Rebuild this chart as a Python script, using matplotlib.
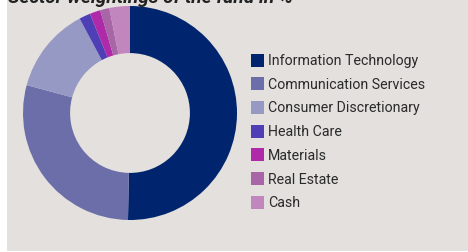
import matplotlib
matplotlib.use("Agg")
import matplotlib.pyplot as plt
from matplotlib.patches import Rectangle

title = "Sector weightings of the fund in %"
sectors = ["Information Technology", "Communication Services", "Consumer Discretionary",
           "Health Care", "Materials", "Real Estate", "Cash"]
weights = [50.3, 28.9, 13.0, 1.7, 1.6, 1.4, 3.1]
colors = ["#00256e", "#6b6ea8", "#9699c4", "#4f3fb6", "#ae2aa8", "#a866a8", "#c186bd"]

W, H = 468, 253
fig = plt.figure(figsize=(W / 100, H / 100), dpi=100)
fig.patch.set_facecolor("white")
bg = "#e3e0dd"
fig.add_artist(Rectangle((7 / W, 1 / H), 1 - 7 / W, 1 - 1 / H, transform=fig.transFigure,
                         facecolor=bg, edgecolor="none", zorder=0))

# donut: center (130,114), radius 107 px
cx, cy, r = 130, 114, 107
ax = fig.add_axes([(cx - r) / W, 1 - (cy + r) / H, 2 * r / W, 2 * r / H])
ax.set_facecolor("none")
ax.pie(weights, colors=colors, startangle=90, counterclock=False,
       wedgeprops=dict(width=0.44, edgecolor="none"), radius=1.0)
ax.set_xlim(-1, 1)
ax.set_ylim(-1, 1)
ax.set_aspect("equal")
ax.axis("off")

fig.text(8 / W, 1 - 3 / H, title, fontsize=13.8, fontweight="bold", fontstyle="italic",
         family="Roboto", color="#222222", va="baseline", ha="left")

y0 = 61
dy = 23.7
for i, (lab, c) in enumerate(zip(sectors, colors)):
    yc = y0 + i * dy
    fig.add_artist(Rectangle((251 / W, 1 - (yc + 6.5) / H), 13 / W, 13 / H,
                             transform=fig.transFigure, facecolor=c, edgecolor="none"))
    fig.text(268 / W, 1 - yc / H, lab, fontsize=10.2, family="Roboto",
             color="#2a2a2a", va="center", ha="left")

fig.savefig("out.png", dpi=100, facecolor=fig.get_facecolor())
